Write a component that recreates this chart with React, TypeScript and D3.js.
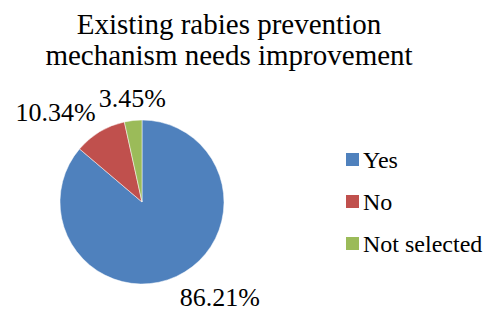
import React from 'react';
import * as d3 from 'd3';

// Chart data
const titleLines = ['Existing rabies prevention', 'mechanism needs improvement'];
const categories = ['Yes', 'No', 'Not selected'];
const shares = [86.21, 10.34, 3.45];
const colors = ['#4F81BD', '#C0504D', '#9BBB59'];

const WIDTH = 483;
const HEIGHT = 312;
const FONT = "'Liberation Serif', Tinos, 'Times New Roman', FreeSerif";
// Liberation Serif gets swapped for a sans face at large sizes here,
// so text is drawn small and scaled up to the wanted size.
const BASE_SIZE = 20;

type STextProps = {
    x: number;
    y: number;
    size: number;
    anchor?: 'start' | 'middle' | 'end';
    children: React.ReactNode;
};

function SText({ x, y, size, anchor = 'start', children }: STextProps) {
    return (
        <text
            transform={`translate(${x},${y}) scale(${size / BASE_SIZE})`}
            fontSize={BASE_SIZE}
            textAnchor={anchor}
            fill="#000"
            style={{ fontFamily: FONT }}
        >
            {children}
        </text>
    );
}

export default function App() {
    const cx = 142;
    const cy = 202;
    const radius = 82;

    const arcs = d3.pie<number>().sort(null).value(d => d)(shares);
    const arc = d3.arc<d3.PieArcDatum<number>>().innerRadius(0).outerRadius(radius);

    // Legend rows spaced evenly
    const legendY = d3.scalePoint<string>().domain(categories).range([168, 252]);

    return (
        <svg
            width={WIDTH}
            height={HEIGHT}
            style={{ position: 'absolute', left: 0, top: 0, background: '#fff' }}
        >
            {titleLines.map((t, i) => (
                <SText key={t} x={229} y={34 + i * 31} size={29} anchor="middle">{t}</SText>
            ))}

            <g transform={`translate(${cx},${cy})`}>
                {arcs.map((d, i) => (
                    <path key={i} d={arc(d) || ''} fill={colors[i]} stroke="#fff" strokeWidth={0.5} />
                ))}
                {arcs.map((d, i) => {
                    // label just outside the slice end, anchored away from the pie
                    const mid = (d.startAngle + d.endAngle) / 2;
                    const [x, y] = d3.pointRadial(mid, radius + 8);
                    const s = Math.sin(mid);
                    const anchor = s > 0.2 ? 'start' : s < -0.2 ? 'end' : 'middle';
                    return (
                        <SText
                            key={i}
                            x={x}
                            y={y - Math.cos(mid) * 15 + 9}
                            size={26}
                            anchor={anchor}
                        >
                            {`${d.data.toFixed(2)}%`}
                        </SText>
                    );
                })}
            </g>

            <g>
                {categories.map((c, i) => (
                    <g key={c} transform={`translate(346,${legendY(c)})`}>
                        <rect x={0} y={-15} width={13} height={13} fill={colors[i]} />
                        <SText x={17} y={0} size={24}>{c}</SText>
                    </g>
                ))}
            </g>
        </svg>
    );
}
